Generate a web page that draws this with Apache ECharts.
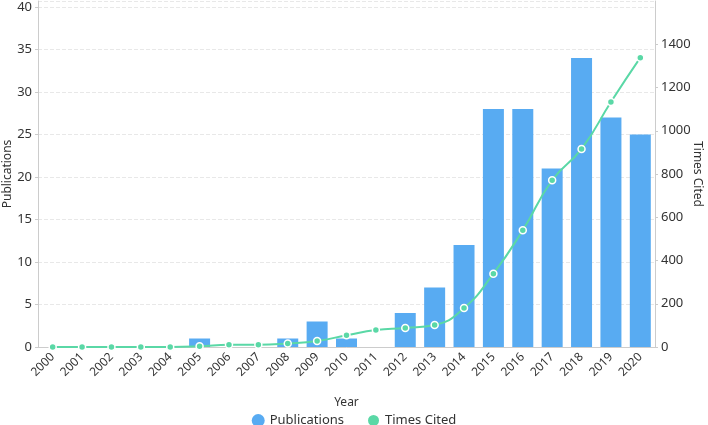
<!DOCTYPE html>
<html>
<head>
<meta charset="UTF-8">
<title>Publications and Times Cited</title>
<style>
  html, body { margin: 0; padding: 0; background: #fff; }
  #chart { width: 708px; height: 425px; }
</style>
</head>
<body>
<div id="chart"></div>
<script src="https://cdn.jsdelivr.net/npm/echarts@6/dist/echarts.min.js"></script>
<script>
// years on the x axis
var years = ['2000', '2001', '2002', '2003', '2004', '2005', '2006', '2007', '2008', '2009', '2010',
  '2011', '2012', '2013', '2014', '2015', '2016', '2017', '2018', '2019', '2020'];
// publications per year (bars, left axis)
var publications = [0, 0, 0, 0, 0, 1, 0, 0, 1, 3, 1, 0, 4, 7, 12, 28, 28, 21, 34, 27, 25];
// times cited per year (line, right axis)
var timesCited = [0, 0, 0, 0, 0, 3, 10, 10, 16, 28, 54, 79, 88, 102, 180, 339, 540, 771, 916, 1133, 1338];

var chart = echarts.init(document.getElementById('chart'));
var txt = '#333';
var font = '"Noto Sans", sans-serif';

var option = {
  animation: false,
  textStyle: { fontFamily: font },
  grid: { left: 38, right: 53, top: 1, bottom: 78, containLabel: false, outerBoundsMode: 'none' },
  legend: {
    top: 408,
    left: 'center',
    icon: 'circle',
    itemWidth: 13,
    itemHeight: 13,
    itemGap: 22,
    textStyle: { color: txt, fontSize: 13, fontFamily: font },
    data: ['Publications', 'Times Cited']
  },
  xAxis: {
    type: 'category',
    data: years,
    name: 'Year',
    nameLocation: 'middle',
    nameGap: 50,
    nameMoveOverlap: false,
    nameTextStyle: { color: txt, fontSize: 12 },
    axisLine: { lineStyle: { color: '#ccc' } },
    axisTick: { alignWithLabel: true, lineStyle: { color: '#ccc' } },
    axisLabel: { rotate: 45, interval: 0, color: txt, fontSize: 12, margin: 8 }
  },
  yAxis: [{
    type: 'value',
    min: 0,
    max: 40.7,
    interval: 5,
    name: 'Publications',
    nameLocation: 'middle',
    nameGap: 24,
    nameMoveOverlap: false,
    nameTextStyle: { color: txt, fontSize: 12 },
    axisLine: { show: true, lineStyle: { color: '#ccc' } },
    axisTick: { show: true, length: 3, lineStyle: { color: '#ccc' } },
    axisLabel: { color: txt, fontSize: 13, showMaxLabel: false, margin: 6 },
    splitLine: { lineStyle: { color: '#e8e8e8', type: 'dashed' } }
  }, {
    type: 'value',
    min: 0,
    max: 1600,
    interval: 200,
    name: 'Times Cited',
    nameLocation: 'middle',
    nameRotate: -90,
    nameGap: 36,
    nameMoveOverlap: false,
    nameTextStyle: { color: txt, fontSize: 12 },
    axisLine: { show: true, lineStyle: { color: '#ccc' } },
    axisTick: { show: true, length: 3, lineStyle: { color: '#ccc' } },
    axisLabel: {
      color: txt, fontSize: 13, showMaxLabel: false, margin: 6,
      formatter: function (v) { return String(v); }
    },
    splitLine: { show: false }
  }],
  series: [{
    name: 'Publications',
    type: 'bar',
    barWidth: 21,
    itemStyle: { color: '#58abf2' },
    data: publications
  }, {
    name: 'Times Cited',
    type: 'line',
    yAxisIndex: 1,
    smooth: true,
    symbol: 'circle',
    symbolSize: 7,
    lineStyle: { color: '#5ad8a6', width: 2 },
    itemStyle: { color: '#5ad8a6', borderColor: '#fff', borderWidth: 1.5 },
    data: timesCited
  }]
};

chart.setOption(option);
window.addEventListener('resize', function () {
  chart.resize();
});
</script>
</body>
</html>
